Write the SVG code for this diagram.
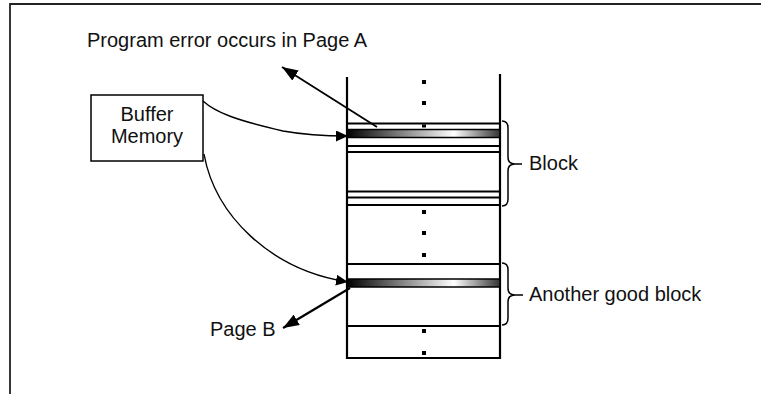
<svg xmlns="http://www.w3.org/2000/svg" width="761" height="394" viewBox="0 0 761 394">
<style>
text{font-family:"Liberation Sans",Arial,sans-serif;font-size:20px;fill:#111}
.col{stroke:#000;stroke-width:2.2;fill:none}
.dot{fill:#000}
.brace{stroke:#000;stroke-width:1.5;fill:none}
.conn{stroke:#000;fill:none}
</style>
<defs>
<linearGradient id="bar" x1="0" y1="0" x2="1" y2="0">
<stop offset="0" stop-color="#000"/>
<stop offset="0.7" stop-color="#fff"/>
<stop offset="1" stop-color="#333"/>
</linearGradient>
<marker id="big" viewBox="0 0 16 12" refX="16" refY="6" markerWidth="16" markerHeight="12" markerUnits="userSpaceOnUse" orient="auto"><path d="M0,0 L16,6 L0,12 z" fill="#000"/></marker>
<marker id="small" viewBox="0 0 12 11" refX="12" refY="5.5" markerWidth="12" markerHeight="11" markerUnits="userSpaceOnUse" orient="auto"><path d="M0,0 L12,5.5 L0,11 z" fill="#000"/></marker>
</defs>
<rect width="761" height="394" fill="#fff"/>
<g id="frame">
<path d="M10,394 L10,4 L761,4" stroke="#222" stroke-width="1.8" fill="none"/>
</g>
<g id="memory-column">
<line class="col" x1="347" y1="77" x2="347" y2="359"/>
<line class="col" x1="500" y1="74" x2="500" y2="359"/>
<g class="col">
<line x1="347" y1="123.5" x2="500" y2="123.5"/>
<line x1="347" y1="146" x2="500" y2="146"/>
<line x1="347" y1="152" x2="500" y2="152"/>
<line x1="347" y1="191.5" x2="500" y2="191.5"/>
<line x1="347" y1="197.5" x2="500" y2="197.5"/>
<line x1="347" y1="205" x2="500" y2="205"/>
<line x1="347" y1="264" x2="500" y2="264"/>
<line x1="347" y1="326" x2="500" y2="326"/>
<line x1="347" y1="358" x2="500" y2="358"/>
</g>
<rect id="pageA" x="347" y="129.5" width="153" height="8" fill="url(#bar)" stroke="#000" stroke-width="1.5"/>
<rect id="pageB" x="347" y="279" width="153" height="8" fill="url(#bar)" stroke="#000" stroke-width="1.5"/>
<g class="dot">
<rect x="422" y="80" width="4" height="4"/>
<rect x="422" y="101" width="4" height="4"/>
<rect x="422" y="124.5" width="4" height="3"/>
<rect x="422" y="210" width="4" height="4"/>
<rect x="422" y="231" width="4" height="4"/>
<rect x="422" y="253" width="4" height="4"/>
<rect x="422" y="329" width="4" height="4"/>
<rect x="422" y="351" width="4" height="4"/>
</g>
</g>
<g id="buffer-memory">
<rect x="91" y="95" width="112" height="66" fill="#fff" stroke="#000" stroke-width="1.5"/>
<text x="147" y="121" text-anchor="middle">Buffer</text>
<text x="147" y="143" text-anchor="middle">Memory</text>
</g>
<g id="block-brace">
<path class="brace" d="M502,121 Q508,121 508,128 L508,157 Q508,164 515,164 L522,164 M515,164 Q508,164 508,171 L508,199 Q508,206 502,206"/>
<text x="529" y="170">Block</text>
</g>
<g id="good-block-brace">
<path class="brace" d="M502,263 Q508,263 508,270 L508,288 Q508,295 515,295 L523,295 M515,295 Q508,295 508,302 L508,318 Q508,325 502,325"/>
<text x="529" y="301">Another good block</text>
</g>
<g id="labels">
<text x="87" y="47">Program error occurs in Page A</text>
<text x="210" y="336">Page B</text>
</g>
<g id="connectors">
<line class="conn" x1="377" y1="127" x2="282" y2="67" stroke-width="1.8" marker-end="url(#big)"/>
<path class="conn" d="M203,101 C215,112 235,120 283,131 C305,135 325,136 348,136" stroke-width="1.4" marker-end="url(#small)"/>
<path class="conn" d="M204,154 C215,215 270,270 348,282" stroke-width="1.4" marker-end="url(#small)"/>
<line class="conn" x1="350" y1="288" x2="283" y2="328" stroke-width="2.2" marker-end="url(#big)"/>
</g>
</svg>
